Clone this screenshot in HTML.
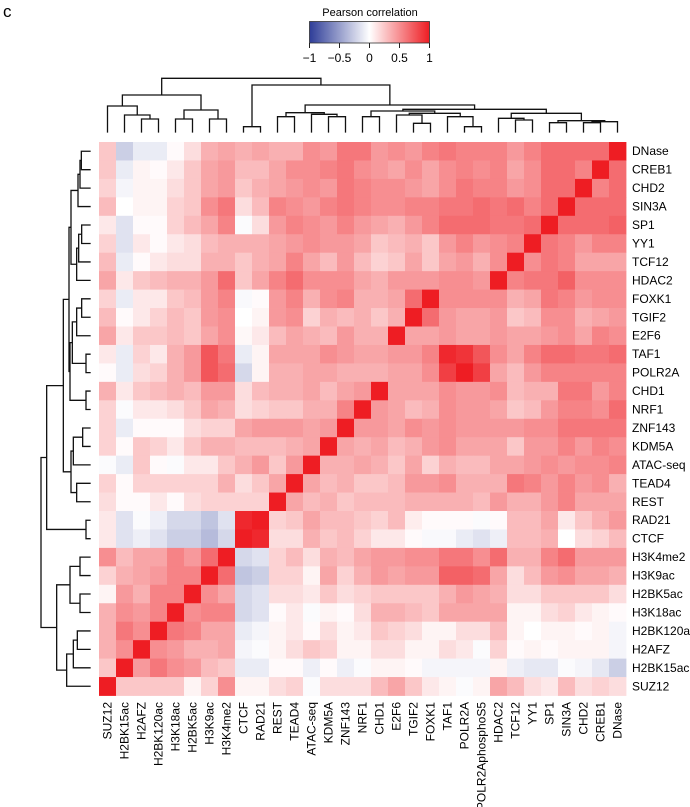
<!DOCTYPE html>
<html><head><meta charset="utf-8"><style>
html,body{margin:0;padding:0;background:#fff;}
svg{display:block;font-family:"Liberation Sans",Arial,sans-serif;}
</style></head><body>
<svg id="chart" width="690" height="807" viewBox="0 0 690 807" xmlns="http://www.w3.org/2000/svg">
<defs>
<linearGradient id="cbar" x1="0" x2="1" y1="0" y2="0">
<stop offset="0" stop-color="#2E3D98"/><stop offset="0.5" stop-color="#ffffff"/><stop offset="1" stop-color="#EE1D23"/>
</linearGradient>
</defs>
<text x="3" y="17" font-size="17">c</text>
<g id="legend">
<text x="370" y="16" font-size="11" text-anchor="middle">Pearson correlation</text>
<rect x="309.5" y="21.5" width="120" height="21.5" fill="url(#cbar)" stroke="#333" stroke-width="0.8"/>
</g>
<g id="heat"></g>
<g id="coldendro" stroke="#111" stroke-width="1.3" fill="none"></g>
<g id="rowdendro" stroke="#111" stroke-width="1.3" fill="none"></g>
<g id="rowlabels" font-size="12"></g>
<g id="collabels" font-size="12"></g>
</svg>
<script>
const colLabels = ["SUZ12","H2BK15ac","H2AFZ","H2BK120ac","H3K18ac","H2BK5ac","H3K9ac","H3K4me2","CTCF","RAD21","REST","TEAD4","ATAC-seq","KDM5A","ZNF143","NRF1","CHD1","E2F6","TGIF2","FOXK1","TAF1","POLR2A","POLR2AphosphoS5","HDAC2","TCF12","YY1","SP1","SIN3A","CHD2","CREB1","DNase"];
const rowLabels = ["DNase","CREB1","CHD2","SIN3A","SP1","YY1","TCF12","HDAC2","FOXK1","TGIF2","E2F6","TAF1","POLR2A","CHD1","NRF1","ZNF143","KDM5A","ATAC-seq","TEAD4","REST","RAD21","CTCF","H3K4me2","H3K9ac","H2BK5ac","H3K18ac","H2BK120ac","H2AFZ","H2BK15ac","SUZ12"];
const keyTicks = [-1,-0.5,0,0.5,1];
const keyTickLabels = ["\u22121","\u22120.5","0","0.5","1"];
const values = [
[.25,-.25,-.1,-.1,.02,.15,.35,.4,.35,.4,.35,.35,.5,.45,.6,.6,.45,.5,.45,.55,.6,.55,.55,.55,.45,.55,.65,.65,.65,.65,1],
[.25,-.1,.05,.02,.1,.25,.4,.45,.3,.3,.4,.5,.5,.55,.6,.5,.45,.4,.5,.4,.5,.55,.5,.55,.4,.5,.65,.65,.55,1,.65],
[.2,-.05,.05,.05,.15,.25,.4,.45,.25,.35,.4,.45,.5,.45,.6,.55,.5,.5,.45,.4,.5,.6,.55,.55,.45,.5,.65,.65,1,.55,.65],
[.3,0,.05,.05,.2,.25,.5,.6,.15,.3,.55,.5,.45,.55,.6,.55,.5,.5,.55,.55,.6,.6,.65,.6,.65,.55,.65,1,.65,.65,.65],
[.1,-.15,.02,.02,.2,.3,.4,.55,-.02,.15,.45,.55,.5,.45,.55,.45,.4,.35,.45,.55,.65,.65,.65,.6,.6,.65,1,.65,.65,.65,.7],
[.2,-.15,.1,.02,.1,.15,.3,.35,.35,.35,.4,.45,.5,.45,.45,.4,.25,.3,.35,.25,.45,.55,.45,.5,.55,1,.6,.55,.45,.55,.55],
[.3,-.1,.02,.1,.15,.15,.35,.35,.25,.35,.4,.55,.4,.3,.45,.3,.2,.25,.4,.25,.4,.45,.35,.5,1,.5,.6,.55,.4,.4,.4],
[.4,.1,.25,.3,.35,.35,.45,.65,.25,.4,.55,.65,.5,.5,.5,.4,.35,.45,.45,.45,.5,.5,.45,1,.55,.6,.6,.7,.5,.5,.5],
[.2,-.1,.1,.1,.25,.3,.45,.55,-.03,.02,.45,.55,.35,.5,.55,.35,.35,.4,.65,1,.5,.5,.5,.5,.35,.4,.6,.55,.45,.5,.5],
[.3,.02,.1,.2,.3,.25,.45,.5,0,.05,.45,.5,.2,.35,.3,.35,.25,.35,1,.65,.45,.4,.4,.45,.25,.3,.5,.5,.35,.4,.45],
[.4,.1,.25,.25,.3,.25,.4,.5,.03,.1,.3,.4,.35,.3,.45,.35,.35,1,.4,.4,.45,.4,.4,.45,.4,.4,.45,.5,.4,.55,.5],
[.1,-.1,.2,.1,.35,.45,.75,.6,-.1,.05,.4,.4,.4,.5,.45,.4,.4,.45,.45,.55,.95,.9,.75,.5,.4,.55,.65,.65,.6,.6,.65],
[.02,-.1,.15,.2,.35,.45,.75,.65,-.2,.05,.35,.35,.4,.4,.35,.35,.35,.4,.4,.5,.85,1,.85,.4,.3,.45,.55,.55,.55,.55,.55],
[.35,.1,.25,.3,.35,.3,.45,.45,.15,.3,.35,.35,.4,.3,.4,.45,1,.4,.4,.4,.5,.45,.45,.5,.3,.35,.35,.6,.6,.45,.55],
[.2,-.02,.1,.1,.15,.25,.4,.35,.15,.2,.25,.25,.35,.35,.55,1,.45,.4,.3,.35,.5,.45,.45,.4,.25,.3,.45,.55,.55,.5,.65],
[.2,-.1,.02,.02,.02,.15,.2,.2,.4,.45,.45,.45,.4,.45,1,.45,.45,.4,.5,.45,.5,.45,.45,.45,.45,.5,.5,.6,.6,.6,.6],
[.2,.02,.25,.2,.1,.25,.35,.35,.3,.3,.3,.35,.4,1,.4,.35,.4,.3,.35,.45,.5,.4,.4,.4,.25,.45,.45,.55,.45,.55,.5],
[-.02,-.1,.25,.02,-.02,.1,.1,.25,.35,.45,.25,.45,1,.35,.35,.4,.35,.25,.4,.2,.35,.3,.3,.4,.4,.45,.5,.45,.5,.5,.55],
[.2,.02,.2,.2,.2,.2,.2,.35,.15,.25,.4,1,.4,.3,.35,.25,.25,.3,.45,.45,.5,.35,.35,.35,.6,.55,.45,.55,.45,.5,.35],
[.15,.02,.02,.1,.02,.15,.2,.2,.2,.2,1,.4,.3,.35,.25,.3,.3,.3,.35,.35,.35,.35,.3,.45,.35,.35,.45,.55,.4,.4,.4],
[.1,-.15,-.02,-.08,-.2,-.2,-.3,-.15,.95,1,.2,.25,.4,.3,.3,.25,.2,.3,.08,.02,.02,.02,-.02,.02,.3,.3,.4,.1,.25,.35,.45],
[.1,-.15,-.08,-.15,-.25,-.25,-.35,-.2,1,.95,.15,.15,.35,.25,.3,.2,.1,.1,.02,-.03,-.03,-.1,-.15,-.08,.3,.3,.35,0,.15,.2,.3],
[.5,.3,.4,.4,.55,.45,.65,1,-.2,-.15,.2,.3,.15,.35,.3,.4,.45,.45,.5,.5,.6,.6,.5,.65,.35,.35,.55,.65,.45,.45,.45],
[.2,.35,.4,.45,.55,.55,1,.65,-.3,-.25,.2,.2,.05,.4,.2,.35,.45,.4,.45,.45,.7,.7,.65,.4,.15,.3,.45,.5,.4,.4,.35],
[.05,.45,.35,.55,.55,1,.5,.4,-.2,-.15,.15,.15,.1,.25,.15,.2,.25,.25,.25,.25,.35,.45,.4,.35,.15,.15,.25,.25,.25,.25,.15],
[.35,.5,.45,.55,1,.5,.55,.55,-.2,-.15,.02,.1,-.02,.05,.02,.15,.35,.35,.3,.25,.4,.4,.4,.4,.05,.05,.15,.2,.1,.05,.02],
[.35,.6,.5,1,.6,.55,.4,.4,-.1,-.05,.05,.1,.02,.15,.05,.1,.25,.2,.15,.05,.05,.15,.15,.3,.05,0,.05,.05,.02,.05,-.05],
[.35,.5,1,.5,.45,.35,.35,.4,-.05,-.02,.05,.15,.25,.2,.05,.05,.15,.15,.05,.05,.15,.1,-.02,.2,.02,.05,.02,.05,.05,.05,-.05],
[.25,1,.45,.6,.5,.45,.3,.25,-.1,-.1,.02,.02,-.08,.02,-.08,-.02,.05,.05,.02,-.05,-.05,-.05,-.05,.05,-.08,-.12,-.12,-.02,-.05,-.12,-.25],
[1,.25,.25,.25,.25,.05,.2,.5,.05,.05,.15,.2,-.02,.15,.15,.15,.3,.4,.25,.1,.05,-.02,.05,.4,.3,.15,.1,.3,.15,.2,.15]
];
const colTree = [235,
 [285,[318,0,[345,1,[357,2,3]]],[330,[357,4,5],[357,6,7]]],
 [255,[380,8,9],[315,
   [338,[350,10,11],[343,12,[350,13,14]]],
   [328,
     [333,[350,15,16],[340,[345,17,[370,18,19]],[350,20,[380,21,22]]]],
     [340,[355,23,[360,24,25]],[362,[368,26,27],[365,[368,28,29],30]]]]]]];
const rowTree = [123,
 [140,
  [190,
   [207,
    [213,[234,[240,[244,0,1],2],3],[230,[236,[245,4,5],6],7]],
    [210,[217,[230,[245,8,9],10],[258,11,12]],[258,13,14]]],
   [213,[220,[248,15,16],17],[230,18,19]]],
  [258,20,21]],
 [170,[210,[240,22,23],[240,24,25]],[200,[220,[232,26,27],28],29]]];

const NS="http://www.w3.org/2000/svg";
const X0=99, CW=17, Y0=142, RH=18.45;
function xCol(i){return X0+i*CW;}
function yRow(r){return Y0+r*RH;}
function keyX(v){return 309.5+(v+1)/2*120;}
function color(v){
  v=Math.max(-1,Math.min(1,v));
  let c;
  if(v>=0){c=[255+(238-255)*v,255+(29-255)*v,255+(35-255)*v];}
  else{const t=-v;c=[255+(46-255)*t,255+(61-255)*t,255+(152-255)*t];}
  return "rgb("+c.map(Math.round).join(",")+")";
}
function mk(tag,attrs,parent){const e=document.createElementNS(NS,tag);for(const k in attrs)e.setAttribute(k,attrs[k]);parent.appendChild(e);return e;}

const heat=document.getElementById("heat");
values.forEach((row,r)=>row.forEach((v,c)=>{
  const el=mk("rect",{x:xCol(c),y:yRow(r),width:CW+0.4,height:RH+0.4,fill:color(v)},heat);
  
  
}));

const legend=document.getElementById("legend");
keyTicks.forEach((t,i)=>{
  const ln=mk("line",{x1:keyX(t),x2:keyX(t),y1:43,y2:48,stroke:"#222","stroke-width":1},legend);
  
  
  const tx=mk("text",{x:keyX(t),y:62,"font-size":12,"text-anchor":"middle"},legend);
  tx.textContent=keyTickLabels[i];
  
  
});

const rl=document.getElementById("rowlabels");
rowLabels.forEach((s,r)=>{
  const t=mk("text",{x:632,y:yRow(r)+RH/2+4},rl);
  t.textContent=s;
  
  
});
const cl=document.getElementById("collabels");
colLabels.forEach((s,c)=>{
  const cx=xCol(c)+CW/2+4, y=702;
  const t=mk("text",{x:cx,y:y,"text-anchor":"end",transform:"rotate(-90 "+cx+" "+y+")"},cl);
  t.textContent=s;
  
  
});

const cd=document.getElementById("coldendro");
function drawCol(n){
  if(typeof n==="number") return {x:xCol(n)+CW/2,y:398/3};
  const a=drawCol(n[1]), b=drawCol(n[2]), h=n[0]/3;
  const p=mk("path",{d:"M"+a.x+" "+a.y+"V"+h+"H"+b.x+"V"+b.y},cd);
  
  
  return {x:(a.x+b.x)/2,y:h};
}
drawCol(colTree);
const rd=document.getElementById("rowdendro");
function drawRow(n){
  if(typeof n==="number") return {x:272/3,y:yRow(n)+RH/2};
  const a=drawRow(n[1]), b=drawRow(n[2]), h=n[0]/3;
  const p=mk("path",{d:"M"+a.x+" "+a.y+"H"+h+"V"+b.y+"H"+b.x},rd);
  
  
  return {x:h,y:(a.y+b.y)/2};
}
drawRow(rowTree);
</script>
</body></html>
